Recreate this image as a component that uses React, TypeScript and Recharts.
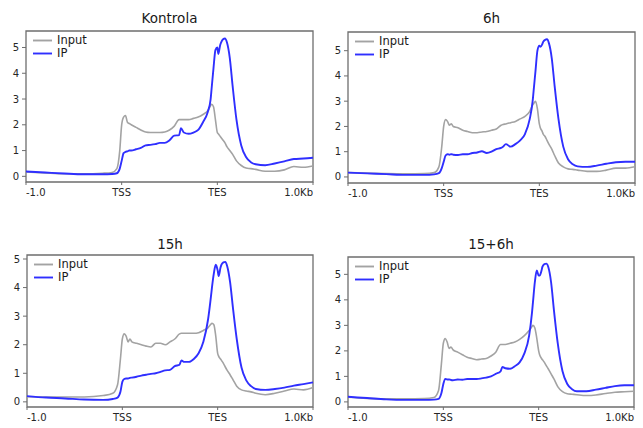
import React from "react";
import { LineChart, Line, XAxis, YAxis, ReferenceArea } from "recharts";

// positions along the metagene (0 = -1.0kb, 1 = TSS, 2 = TES, 3 = +1.0kb)
const positions = [0, 0.2, 0.4, 0.6, 0.8, 0.9, 0.95, 0.98, 1.0, 1.02, 1.04, 1.06, 1.08, 1.1, 1.15, 1.2, 1.25, 1.3, 1.35, 1.4, 1.45, 1.5, 1.55, 1.6, 1.62, 1.65, 1.7, 1.75, 1.8, 1.85, 1.9, 1.93, 1.94, 1.96, 1.98, 2.0, 2.01, 2.03, 2.04, 2.06, 2.08, 2.1, 2.13, 2.16, 2.2, 2.25, 2.3, 2.35, 2.4, 2.5, 2.6, 2.7, 2.8, 2.9, 3.0];

const tickPositions = [0, 1, 2, 3];
const tickLabels = ["-1.0", "TSS", "TES", "1.0Kb"];
const yTicks = [0, 1, 2, 3, 4, 5];
const panelTitles = ["Kontrola", "6h", "15h", "15+6h"];
const seriesNames = ["Input", "IP"];

const kontrolaInput = [0.17, 0.13, 0.1, 0.1, 0.12, 0.15, 0.3, 1.0, 2.0, 2.3, 2.36, 2.1, 2.05, 2.0, 1.9, 1.8, 1.72, 1.7, 1.7, 1.7, 1.72, 1.8, 1.95, 2.2, 2.2, 2.2, 2.2, 2.25, 2.3, 2.4, 2.55, 2.75, 2.8, 2.7, 2.2, 1.7, 1.65, 1.55, 1.5, 1.4, 1.3, 1.15, 1.0, 0.85, 0.6, 0.42, 0.32, 0.3, 0.27, 0.2, 0.2, 0.25, 0.38, 0.35, 0.4];
const kontrolaIP = [0.19, 0.15, 0.11, 0.08, 0.08, 0.09, 0.12, 0.3, 0.6, 0.9, 0.95, 0.97, 1.0, 1.0, 1.05, 1.1, 1.2, 1.22, 1.25, 1.3, 1.3, 1.4, 1.58, 1.6, 1.87, 1.7, 1.65, 1.7, 1.8, 2.1, 2.5, 3.0, 3.4, 4.2, 4.9, 5.0, 4.75, 5.1, 5.2, 5.32, 5.35, 5.2, 4.6, 3.5, 2.2, 1.2, 0.75, 0.55, 0.47, 0.43, 0.5, 0.58, 0.67, 0.69, 0.72];

const h6Input = [0.17, 0.15, 0.13, 0.12, 0.13, 0.17, 0.4, 1.2, 2.0, 2.27, 2.2, 2.05, 2.1, 2.0, 1.95, 1.85, 1.8, 1.75, 1.75, 1.78, 1.8, 1.85, 1.9, 2.05, 2.08, 2.1, 2.15, 2.2, 2.3, 2.4, 2.6, 2.85, 2.9, 3.0, 2.7, 2.1, 1.95, 1.8, 1.7, 1.6, 1.45, 1.3, 1.1, 0.85, 0.55, 0.4, 0.32, 0.3, 0.27, 0.22, 0.22, 0.27, 0.35, 0.35, 0.4];
const h6IP = [0.17, 0.14, 0.11, 0.08, 0.08, 0.1, 0.15, 0.35, 0.6, 0.85, 0.9, 0.88, 0.9, 0.88, 0.87, 0.9, 0.9, 0.95, 0.97, 1.02, 0.95, 1.0, 1.1, 1.15, 1.2, 1.3, 1.2, 1.3, 1.45, 1.7, 2.3, 3.0, 3.4, 4.2, 5.0, 5.2, 5.15, 5.25, 5.35, 5.43, 5.45, 5.3, 4.7, 3.6, 2.3, 1.2, 0.7, 0.5, 0.42, 0.4, 0.45, 0.52, 0.58, 0.6, 0.6];

const h15Input = [0.18, 0.17, 0.17, 0.17, 0.22, 0.3, 0.6, 1.5, 2.2, 2.38, 2.3, 2.1, 2.2, 2.1, 2.05, 2.0, 1.95, 1.92, 2.05, 2.05, 2.0, 2.1, 2.2, 2.38, 2.4, 2.4, 2.4, 2.4, 2.42, 2.5, 2.6, 2.72, 2.75, 2.7, 2.3, 1.7, 1.6, 1.5, 1.45, 1.35, 1.22, 1.1, 0.95, 0.78, 0.55, 0.42, 0.38, 0.35, 0.3, 0.25, 0.3, 0.38, 0.45, 0.42, 0.5];
const h15IP = [0.2, 0.15, 0.12, 0.08, 0.07, 0.1, 0.15, 0.35, 0.7, 0.8, 0.82, 0.82, 0.84, 0.85, 0.88, 0.92, 0.95, 0.98, 1.0, 1.05, 1.1, 1.12, 1.25, 1.3, 1.45, 1.4, 1.4, 1.5, 1.7, 2.1, 2.9, 3.7, 4.0, 4.5, 4.8, 4.6, 4.4, 4.7, 4.8, 4.88, 4.9, 4.75, 4.2, 3.3, 2.2, 1.2, 0.75, 0.55, 0.45, 0.42, 0.45, 0.5, 0.57, 0.62, 0.68];

const h15p6Input = [0.18, 0.14, 0.12, 0.12, 0.13, 0.17, 0.45, 1.5, 2.3, 2.48, 2.35, 2.1, 2.15, 2.05, 1.95, 1.85, 1.75, 1.7, 1.65, 1.68, 1.7, 1.8, 1.95, 2.25, 2.25, 2.25, 2.3, 2.35, 2.45, 2.6, 2.8, 2.95, 3.0, 2.9, 2.5, 2.0, 1.85, 1.7, 1.65, 1.55, 1.42, 1.3, 1.1, 0.9, 0.6, 0.4, 0.32, 0.3, 0.28, 0.25, 0.27, 0.33, 0.38, 0.4, 0.42];
const h15p6IP = [0.2, 0.15, 0.1, 0.08, 0.08, 0.09, 0.12, 0.35, 0.7, 0.9, 0.88, 0.88, 0.86, 0.85, 0.88, 0.87, 0.9, 0.9, 0.9, 0.92, 0.95, 1.0, 1.1, 1.2, 1.37, 1.32, 1.3, 1.4, 1.55, 1.9, 2.6, 3.5, 3.9, 4.7, 5.15, 4.95, 4.95, 5.15, 5.3, 5.4, 5.42, 5.3, 4.7, 3.6, 2.3, 1.2, 0.7, 0.5, 0.42, 0.42, 0.48, 0.55, 0.62, 0.65, 0.65];

const FONT = "'DejaVu Sans', sans-serif";
const TEXT = "#262626";
const GRAY = "#a3a3a3";
const BLUE = "#2f2fff";
const FRAME = "#6e6e6e";

type PanelCfg = {
  title: string;
  input: number[];
  ip: number[];
  plotLeft: number;
  plotTop: number;
  plotW: number;
  plotH: number;
  titleY: number;
  yDomain: [number, number];
};

const panels: PanelCfg[] = [
  { title: panelTitles[0], input: kontrolaInput, ip: kontrolaIP, plotLeft: 26, plotTop: 31, plotW: 287, plotH: 151, titleY: 18, yDomain: [-0.22, 5.64] },
  { title: panelTitles[1], input: h6Input, ip: h6IP, plotLeft: 348, plotTop: 32, plotW: 287, plotH: 151, titleY: 18, yDomain: [-0.24, 5.74] },
  { title: panelTitles[2], input: h15Input, ip: h15IP, plotLeft: 27, plotTop: 255, plotW: 286, plotH: 152, titleY: 244, yDomain: [-0.18, 5.14] },
  { title: panelTitles[3], input: h15p6Input, ip: h15p6IP, plotLeft: 348, plotTop: 257, plotW: 286, plotH: 150, titleY: 244, yDomain: [-0.2, 5.68] },
];

const YW = 26;
const XH = 24;
const MT = 30;
const MR = 8;

const XTick = (props: any) => {
  const { x, y, payload, index } = props;
  const i = tickPositions.indexOf(payload.value);
  const anchor = i === 0 ? "start" : i === tickPositions.length - 1 ? "end" : "middle";
  return (
    <text x={x} y={y} dy="0.75em" textAnchor={anchor} fill={TEXT} fontSize={10} fontFamily={FONT}>
      {tickLabels[i >= 0 ? i : index]}
    </text>
  );
};

const Panel = ({ cfg }: { cfg: PanelCfg }) => {
  const data = positions.map((x, i) => ({ x, input: cfg.input[i], ip: cfg.ip[i] }));
  const width = YW + cfg.plotW + MR;
  const height = MT + cfg.plotH + XH;
  const left = cfg.plotLeft - YW;
  const top = cfg.plotTop - MT;
  return (
    <>
      <div
        style={{
          position: "absolute",
          left: cfg.plotLeft,
          width: cfg.plotW,
          top: cfg.titleY - 9,
          height: 18,
          lineHeight: "18px",
          textAlign: "center",
          fontFamily: FONT,
          fontSize: 13.5,
          color: "#1a1a1a",
        }}
      >
        {cfg.title}
      </div>
      <div style={{ position: "absolute", left, top, width, height }}>
        <LineChart width={width} height={height} data={data} margin={{ top: MT, right: MR, left: 0, bottom: 0 }}>
          <XAxis
            dataKey="x"
            type="number"
            domain={[0, 3]}
            ticks={tickPositions}
            height={XH}
            axisLine={false}
            tickLine={{ stroke: FRAME }}
            tickSize={3}
            tickMargin={3}
            tick={<XTick />}
            interval={0}
          />
          <YAxis
            type="number"
            domain={cfg.yDomain}
            ticks={yTicks}
            allowDataOverflow
            width={YW}
            axisLine={false}
            tickLine={{ stroke: FRAME }}
            tickSize={4}
            tickMargin={3}
            tick={{ fill: TEXT, fontSize: 10, fontFamily: FONT }}
            interval={0}
          />
          <ReferenceArea x1={0} x2={3} y1={cfg.yDomain[0]} y2={cfg.yDomain[1]} fill="none" stroke={FRAME} strokeWidth={1.3} ifOverflow="visible" />
          <Line type="monotone" dataKey="input" name={seriesNames[0]} stroke={GRAY} strokeWidth={1.6} dot={false} isAnimationActive={false} />
          <Line type="monotone" dataKey="ip" name={seriesNames[1]} stroke={BLUE} strokeWidth={1.9} dot={false} isAnimationActive={false} />
        </LineChart>
      </div>
      <div
        style={{
          position: "absolute",
          left: cfg.plotLeft + 6,
          top: cfg.plotTop + 3,
          fontFamily: FONT,
          fontSize: 11.5,
          color: "#1a1a1a",
          lineHeight: "13px",
        }}
      >
        {seriesNames.map((n, i) => (
          <div key={n} style={{ display: "flex", alignItems: "center", height: 13 }}>
            <svg width={25} height={13} style={{ display: "block" }}>
              <line x1={1} x2={20} y1={6.5} y2={6.5} stroke={i === 0 ? GRAY : BLUE} strokeWidth={1.9} />
            </svg>
            <span>{n}</span>
          </div>
        ))}
      </div>
    </>
  );
};

export default function App() {
  return (
    <div style={{ position: "absolute", left: 0, top: 0, width: 643, height: 428, background: "#fff", overflow: "hidden" }}>
      {panels.map((p) => (
        <Panel key={p.title} cfg={p} />
      ))}
    </div>
  );
}
